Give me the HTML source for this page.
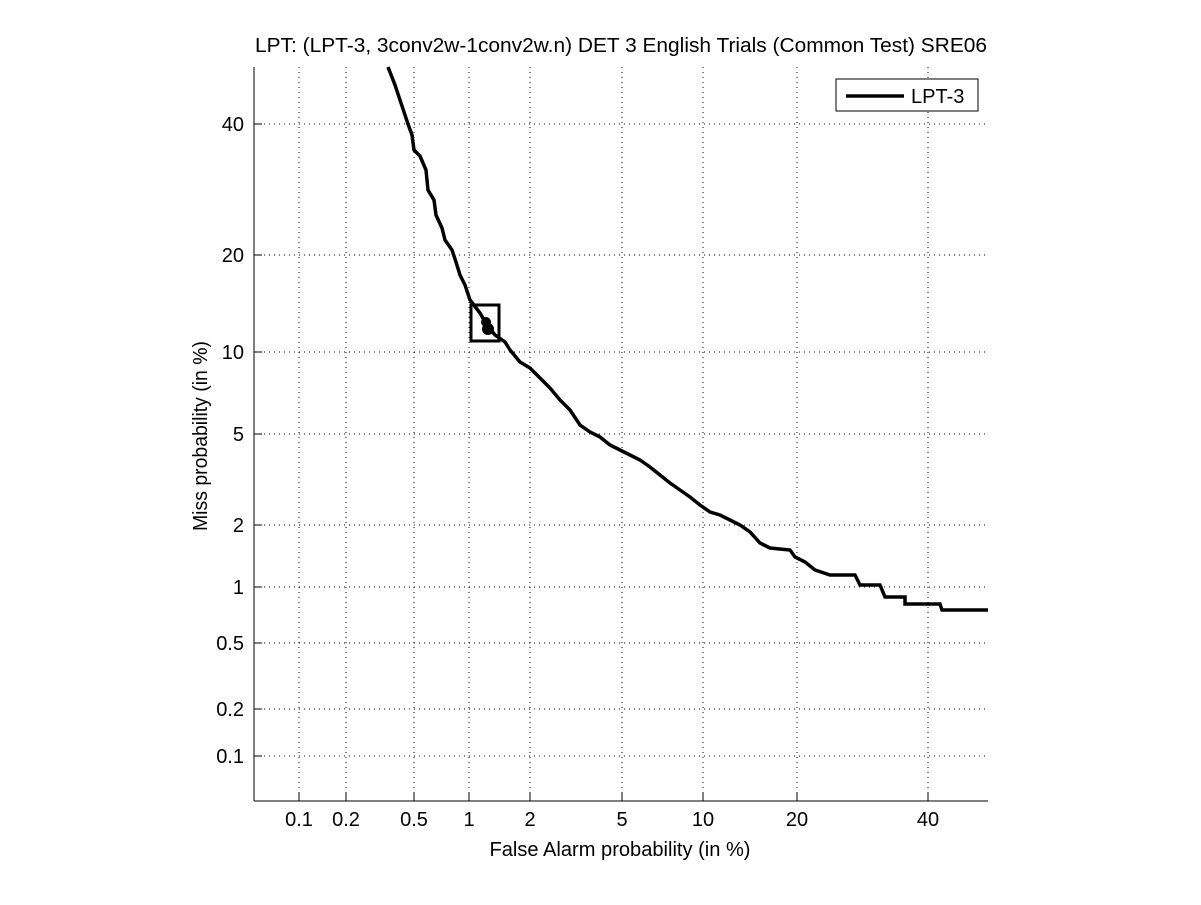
<!DOCTYPE html>
<html><head><style>body{margin:0;background:#fff}</style></head><body>
<svg width="1201" height="900" xmlns="http://www.w3.org/2000/svg" font-family="Liberation Sans, sans-serif" font-size="20">
<rect width="1201" height="900" fill="#fff"/>
<g stroke="#000" stroke-width="1" stroke-dasharray="1,4">
<line x1="299" y1="67" x2="299" y2="801"/><line x1="346" y1="67" x2="346" y2="801"/><line x1="414" y1="67" x2="414" y2="801"/><line x1="469" y1="67" x2="469" y2="801"/><line x1="530" y1="67" x2="530" y2="801"/><line x1="622" y1="67" x2="622" y2="801"/><line x1="703" y1="67" x2="703" y2="801"/><line x1="797" y1="67" x2="797" y2="801"/><line x1="928" y1="67" x2="928" y2="801"/>
<line x1="254" y1="124" x2="988" y2="124"/><line x1="254" y1="255" x2="988" y2="255"/><line x1="254" y1="352" x2="988" y2="352"/><line x1="254" y1="434" x2="988" y2="434"/><line x1="254" y1="525" x2="988" y2="525"/><line x1="254" y1="587" x2="988" y2="587"/><line x1="254" y1="643" x2="988" y2="643"/><line x1="254" y1="709" x2="988" y2="709"/><line x1="254" y1="756" x2="988" y2="756"/>
</g>
<g stroke="#000" stroke-width="1"><line x1="254" y1="67" x2="254" y2="801"/><line x1="254" y1="801" x2="988" y2="801"/>
<line x1="299" y1="801" x2="299" y2="793"/><line x1="346" y1="801" x2="346" y2="793"/><line x1="414" y1="801" x2="414" y2="793"/><line x1="469" y1="801" x2="469" y2="793"/><line x1="530" y1="801" x2="530" y2="793"/><line x1="622" y1="801" x2="622" y2="793"/><line x1="703" y1="801" x2="703" y2="793"/><line x1="797" y1="801" x2="797" y2="793"/><line x1="928" y1="801" x2="928" y2="793"/>
<line x1="254" y1="124" x2="262" y2="124"/><line x1="254" y1="255" x2="262" y2="255"/><line x1="254" y1="352" x2="262" y2="352"/><line x1="254" y1="434" x2="262" y2="434"/><line x1="254" y1="525" x2="262" y2="525"/><line x1="254" y1="587" x2="262" y2="587"/><line x1="254" y1="643" x2="262" y2="643"/><line x1="254" y1="709" x2="262" y2="709"/><line x1="254" y1="756" x2="262" y2="756"/>
</g>
<g text-anchor="middle"><text x="299" y="826">0.1</text><text x="346" y="826">0.2</text><text x="414" y="826">0.5</text><text x="469" y="826">1</text><text x="530" y="826">2</text><text x="622" y="826">5</text><text x="703" y="826">10</text><text x="797" y="826">20</text><text x="928" y="826">40</text>
<text x="620" y="856" textLength="261" lengthAdjust="spacingAndGlyphs">False Alarm probability (in %)</text>
<text x="621" y="52" textLength="732" lengthAdjust="spacingAndGlyphs">LPT: (LPT-3, 3conv2w-1conv2w.n) DET 3 English Trials (Common Test) SRE06</text></g>
<g text-anchor="end"><text x="244" y="131">40</text><text x="244" y="262">20</text><text x="244" y="359">10</text><text x="244" y="441">5</text><text x="244" y="532">2</text><text x="244" y="594">1</text><text x="244" y="650">0.5</text><text x="244" y="716">0.2</text><text x="244" y="763">0.1</text></g>
<text transform="translate(207,436) rotate(-90)" text-anchor="middle" textLength="190" lengthAdjust="spacingAndGlyphs">Miss probability (in %)</text>
<polyline fill="none" stroke="#000" stroke-width="3.5" points="388,67 395,85 400,100 404,112 408,124 412,135 414,150 420,156 426,170 428,190 434,200 436,215 442,228 445,240 452,250 456,262 460,275 465,285 470,300 480,313 487,325 495,335 505,342 510,350 520,362 530,368 540,378 550,388 560,400 570,410 580,425 590,432 600,437 610,445 620,450 630,455 640,460 650,467 660,475 670,483 680,490 690,497 700,505 710,512 720,515 730,520 740,525 750,532 760,543 770,548 790,550 795,557 805,562 815,570 830,575 855,575 860,585 880,585 885,597 905,597 905,604 940,604 942,610 988,610"/>
<rect x="471" y="305" width="28" height="36" fill="none" stroke="#000" stroke-width="3"/>
<circle cx="486" cy="322" r="5" fill="#000"/><circle cx="488" cy="329" r="6" fill="#000"/>
<rect x="836" y="79" width="142" height="32" fill="#fff" stroke="#000" stroke-width="1"/>
<line x1="846" y1="96" x2="904" y2="96" stroke="#000" stroke-width="3.5"/>
<text x="911" y="103">LPT-3</text>
</svg>
</body></html>
